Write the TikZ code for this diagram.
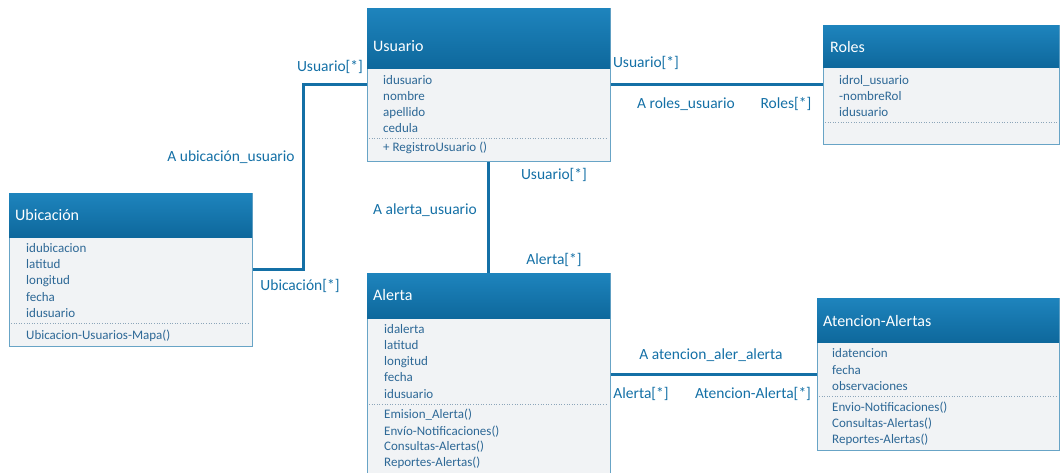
\documentclass[tikz,border=0pt]{standalone}
\usepackage{fontspec}
\setmainfont{Carlito}
\usetikzlibrary{positioning}
\definecolor{headtop}{RGB}{30,132,189}
\definecolor{headbot}{RGB}{14,104,156}
\definecolor{bodyfill}{RGB}{241,243,245}
\definecolor{boxline}{RGB}{104,164,198}
\definecolor{itemblue}{RGB}{45,104,150}
\definecolor{assocblue}{RGB}{20,112,166}
\definecolor{sepgray}{RGB}{140,165,185}
\tikzstyle{class style}=[draw=boxline, fill=bodyfill, line width=0.8pt,
        inner sep=0pt, anchor=north west]
\tikzstyle{head style}=[top color=headtop, bottom color=headbot, draw=none,
        inner sep=0pt, anchor=north west]
\tikzstyle{title style}=[text=white, font=\fontsize{16}{16}\selectfont,
        anchor=base west, inner sep=0pt]
\tikzstyle{item style}=[text=itemblue, font=\fontsize{13}{13}\selectfont,
        anchor=base west, inner sep=0pt]
\tikzstyle{end style}=[text=assocblue, font=\fontsize{15.5}{15.5}\selectfont,
        inner sep=0pt]
\tikzstyle{edge style}=[-, draw=assocblue, line width=3pt]
\tikzstyle{sep style}=[draw=sepgray, dotted, line width=0.6pt]

\begin{document}
\begin{tikzpicture}[x=1pt, y=-1pt]
    \useasboundingbox (0,0) rectangle (1061,472);

    % Usuario
    \node [style=class style, minimum width=243pt, minimum height=153pt] (usuario) at (367,8) {};
    \node [style=head style, minimum width=243pt, minimum height=60pt] (usuario h) at (usuario.north west) {};
    \node [style=title style] (usuario t) at (373,51) {Usuario};
    \node [style=item style] (usuario 1) at (383,84) {idusuario};
    \node [style=item style] (usuario 2) at (383,100) {nombre};
    \node [style=item style] (usuario 3) at (383,116) {apellido};
    \node [style=item style] (usuario 4) at (383,132) {cedula};
    \draw [style=sep style] (369,138) -- (608,138);
    \node [style=item style] (usuario 5) at (383,151) {+ RegistroUsuario ()};

    % Roles
    \node [style=class style, minimum width=236pt, minimum height=119pt] (roles) at (823,25) {};
    \node [style=head style, minimum width=236pt, minimum height=42pt] (roles h) at (roles.north west) {};
    \node [style=title style] (roles t) at (830,52) {Roles};
    \node [style=item style] (roles 1) at (839,84) {idrol\_usuario};
    \node [style=item style] (roles 2) at (839,100) {-nombreRol};
    \node [style=item style] (roles 3) at (839,116) {idusuario};
    \draw [style=sep style] (825,122) -- (1057,122);

    % Ubicacion
    \node [style=class style, minimum width=243pt, minimum height=153pt] (ubicacion) at (9,193) {};
    \node [style=head style, minimum width=243pt, minimum height=44pt] (ubicacion h) at (ubicacion.north west) {};
    \node [style=title style] (ubicacion t) at (15,220) {Ubicación};
    \node [style=item style] (ubicacion 1) at (26,252) {idubicacion};
    \node [style=item style] (ubicacion 2) at (26,268) {latitud};
    \node [style=item style] (ubicacion 3) at (26,284) {longitud};
    \node [style=item style] (ubicacion 4) at (26,301) {fecha};
    \node [style=item style] (ubicacion 5) at (26,317) {idusuario};
    \draw [style=sep style] (11,323) -- (250,323);
    \node [style=item style] (ubicacion 6) at (26,339) {Ubicacion-Usuarios-Mapa()};

    % Alerta
    \node [style=class style, minimum width=243pt, minimum height=207pt] (alerta) at (367,273) {};
    \node [style=head style, minimum width=243pt, minimum height=45pt] (alerta h) at (alerta.north west) {};
    \node [style=title style] (alerta t) at (373,300) {Alerta};
    \node [style=item style] (alerta 1) at (384,333) {idalerta};
    \node [style=item style] (alerta 2) at (384,349) {latitud};
    \node [style=item style] (alerta 3) at (384,365) {longitud};
    \node [style=item style] (alerta 4) at (384,381) {fecha};
    \node [style=item style] (alerta 5) at (384,398) {idusuario};
    \draw [style=sep style] (369,404) -- (608,404);
    \node [style=item style] (alerta 6) at (384,418) {Emision\_Alerta()};
    \node [style=item style] (alerta 7) at (384,435) {Envío-Notificaciones()};
    \node [style=item style] (alerta 8) at (384,450) {Consultas-Alertas()};
    \node [style=item style] (alerta 9) at (384,466) {Reportes-Alertas()};

    % Atencion-Alertas
    \node [style=class style, minimum width=242pt, minimum height=152pt] (atencion) at (817,298) {};
    \node [style=head style, minimum width=242pt, minimum height=44pt] (atencion h) at (atencion.north west) {};
    \node [style=title style] (atencion t) at (823,326) {Atencion-Alertas};
    \node [style=item style] (atencion 1) at (832,357) {idatencion};
    \node [style=item style] (atencion 2) at (832,374) {fecha};
    \node [style=item style] (atencion 3) at (832,390) {observaciones};
    \draw [style=sep style] (819,396) -- (1057,396);
    \node [style=item style] (atencion 4) at (832,411) {Envio-Notificaciones()};
    \node [style=item style] (atencion 5) at (832,427) {Consultas-Alertas()};
    \node [style=item style] (atencion 6) at (832,443) {Reportes-Alertas()};

    % associations
    \coordinate (bend) at (303,84);
    \draw [style=edge style] (ubicacion.east) -| (bend) -- (usuario.west |- bend);
    \draw [style=edge style] (usuario.east |- roles.west) -- (roles.west);
    \draw [style=edge style] (usuario.south) -- (alerta.north);
    \draw [style=edge style] (alerta.east |- atencion.west) -- (atencion.west);

    \node [style=end style] (e1) at (330,67) {Usuario[*]};
    \node [style=end style] (e2) at (231,157) {A ubicación\_usuario};
    \node [style=end style] (e3) at (300,286) {Ubicación[*]};
    \node [style=end style] (e4) at (646,63) {Usuario[*]};
    \node [style=end style] (e5) at (686,104) {A roles\_usuario};
    \node [style=end style] (e6) at (786,104) {Roles[*]};
    \node [style=end style] (e7) at (554,175) {Usuario[*]};
    \node [style=end style] (e8) at (425,210) {A alerta\_usuario};
    \node [style=end style] (e9) at (554,260) {Alerta[*]};
    \node [style=end style] (e10) at (711,355) {A atencion\_aler\_alerta};
    \node [style=end style] (e11) at (641,394) {Alerta[*]};
    \node [style=end style] (e12) at (753,394) {Atencion-Alerta[*]};
\end{tikzpicture}
\end{document}
